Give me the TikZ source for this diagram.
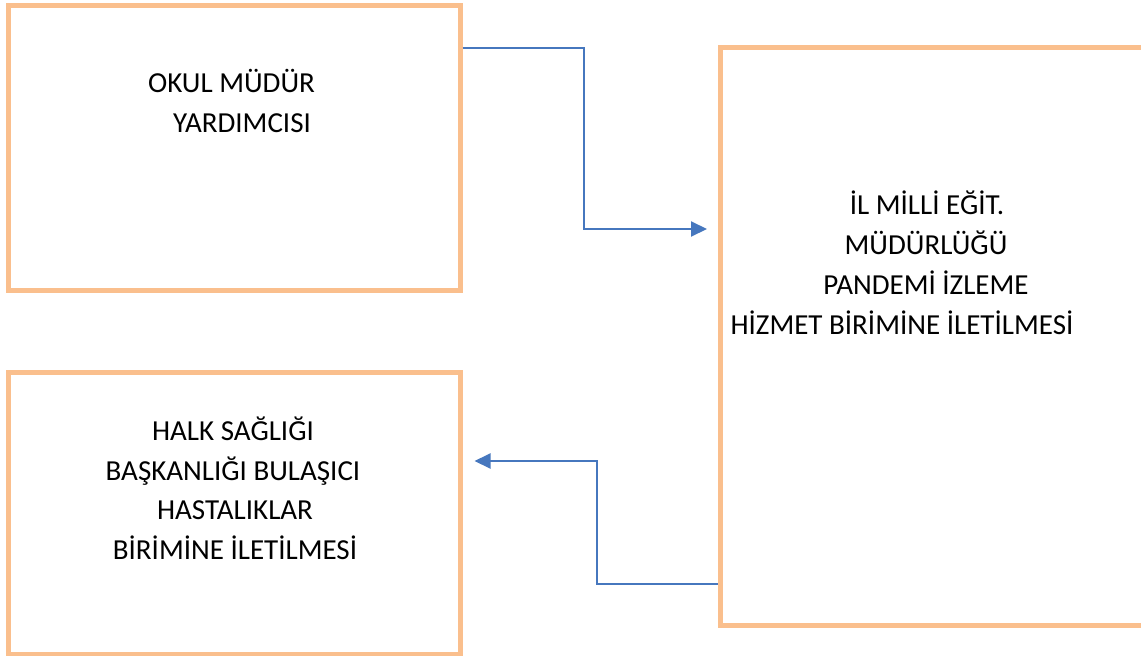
\documentclass[tikz,border=0pt]{standalone}
\usepackage{fontspec}
\setmainfont{Carlito}
\usetikzlibrary{arrows.meta}

\definecolor{boxorange}{HTML}{FABF8D}
\definecolor{linkblue}{HTML}{4677BE}

\tikzset{
  box/.style={draw=boxorange, line width=5pt, rectangle, inner sep=0pt},
  txt/.style={anchor=base, inner sep=0pt, font=\fontsize{29}{40}\selectfont},
  link/.style={draw=linkblue, line width=2pt, -{Triangle[length=16pt,width=15pt]}}
}

\begin{document}
\begin{tikzpicture}[x=1pt, y=-1pt]
  \clip (0,0) rectangle (1141,656);
  \fill[white] (0,0) rectangle (1141,656);

  % kutular
  \node[box, minimum width=452pt, minimum height=284.5pt] (mudyard) at (234,147.75) {};
  \node[box, minimum width=430pt, minimum height=577.5pt] (ilmem) at (935.5,336.25) {};
  \node[box, minimum width=452pt, minimum height=282.5pt] (halksag) at (234,513.25) {};

  % metinler
  \node[txt] (mudyard1) at (231.5,92) {OKUL MÜDÜR};
  \node[txt] (mudyard2) at (242,132) {YARDIMCISI};

  \node[txt] (ilmem1) at (927,214) {İL MİLLİ EĞİT.};
  \node[txt] (ilmem2) at (926,254) {MÜDÜRLÜĞÜ};
  \node[txt] (ilmem3) at (926,294) {PANDEMİ İZLEME};
  \node[txt] (ilmem4) at (902,334) {HİZMET BİRİMİNE İLETİLMESİ};

  \node[txt] (halksag1) at (233,440) {HALK SAĞLIĞI};
  \node[txt] (halksag2) at (233,480) {BAŞKANLIĞI BULAŞICI};
  \node[txt] (halksag3) at (235,519) {HASTALIKLAR};
  \node[txt] (halksag4) at (235,559) {BİRİMİNE İLETİLMESİ};

  % oklar
  \draw[link, shorten >=11pt] (mudyard.east |- 0,48) -| (584,229) -- (ilmem.west |- 0,229);
  \draw[link, shorten >=12pt] (ilmem.west |- 0,584) -| (597,461) -- (halksag.east |- 0,461);
\end{tikzpicture}
\end{document}
